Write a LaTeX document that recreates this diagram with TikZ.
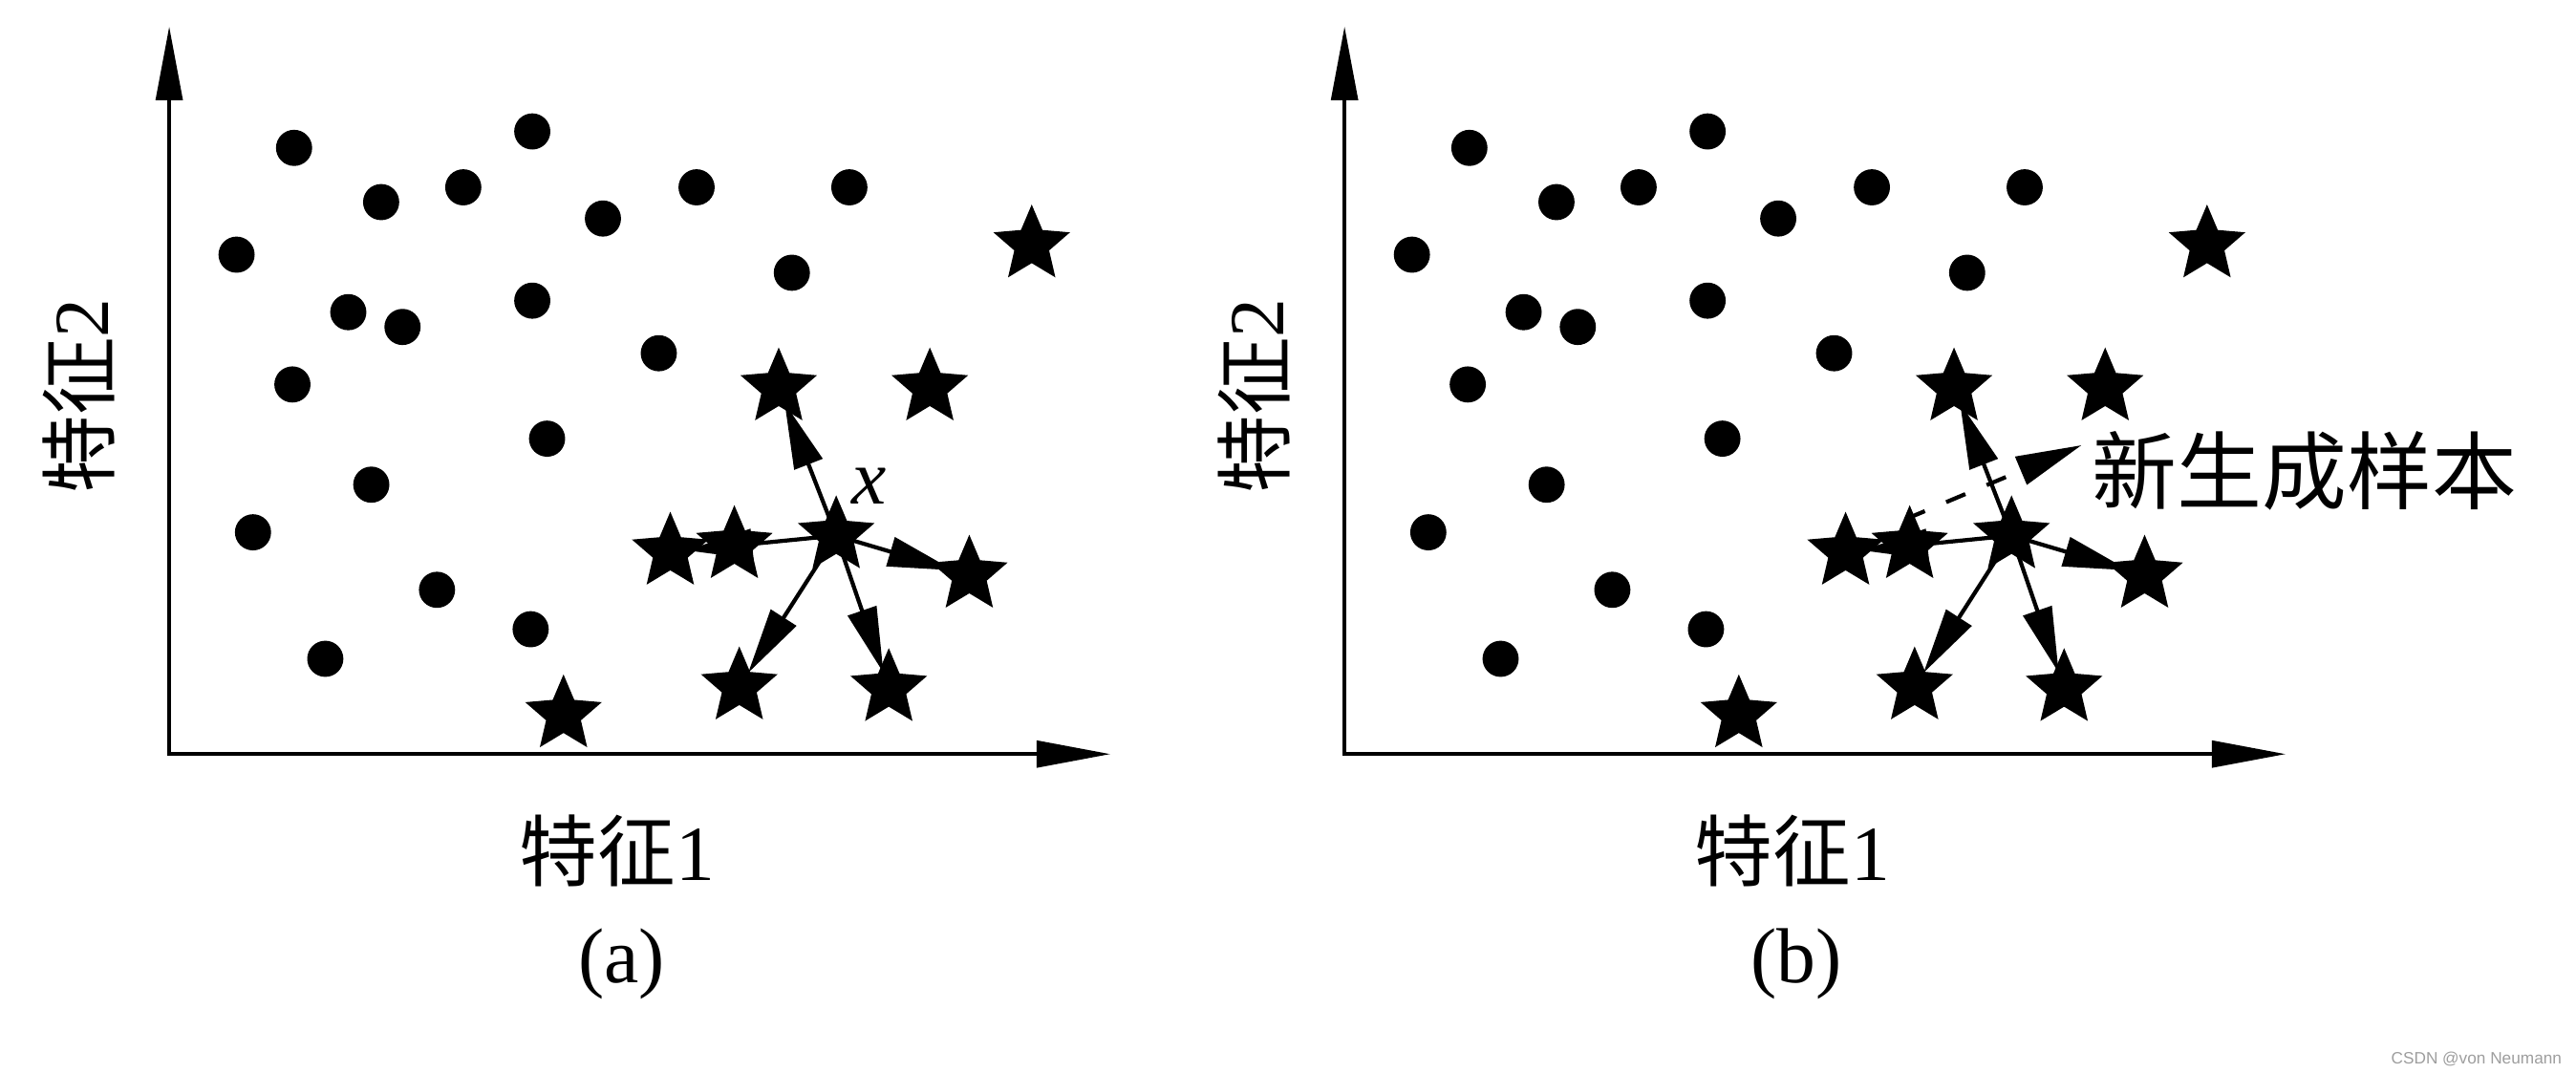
\documentclass[tikz,border=0pt]{standalone}
\usepackage{fontspec}
\setmainfont{Liberation Serif}
\newfontfamily\cjk{Noto Sans CJK SC}
\newfontfamily\wmfont{Liberation Sans}
\usetikzlibrary{shapes.geometric,arrows.meta}
\tikzset{
  dot/.style={circle,fill=black,inner sep=0pt,minimum size=0.22cm},
  starnode/.style={star,star points=5,star point ratio=2.2,fill=black,inner sep=0pt,minimum size=0.49cm},
  axis/.style={line width=0.75pt,{Triangle[length=0.45cm,width=0.16cm]}-{Triangle[length=0.45cm,width=0.16cm]}},
  nbarrow/.style={line width=0.7pt,-{Triangle[length=0.40cm,width=0.18cm]},shorten >=0.10cm},
  newarrow/.style={line width=0.7pt,dash pattern=on 3.6pt off 4pt,-{Triangle[length=0.40cm,width=0.18cm]}},
  lbl/.style={inner sep=0pt,font=\fontsize{13.5}{15}\selectfont},
  biglbl/.style={inner sep=0pt,font=\fontsize{14.7}{16}\selectfont},
  wm/.style={inner sep=0pt,text=black!38,font=\wmfont\fontsize{2.85}{3}\selectfont},
}
\begin{document}
\begin{tikzpicture}[x=0.01cm,y=-0.01cm]
\fill[white] (0,0) rectangle (1568,653);
\useasboundingbox (0,0) rectangle (1568,653);
\foreach \p/\dx in {a/0,b/7.15}{
\begin{scope}[xshift=\dx cm]
  % axes
  \coordinate (o\p) at (103,459);
  \coordinate (ytip\p) at (103,16);
  \coordinate (xtip\p) at (676,459);
  \draw[axis] (ytip\p) -- (o\p) -- (xtip\p);
  % dots (majority class)
  \foreach \i/\cx/\cy in {1/179/90,2/324/80,3/232/123,4/282/114,5/367/133,6/424/114,7/517/114,
      8/144/155,9/482/166,10/212/190,11/245/199,12/324/183,13/401/215,14/178/234,15/333/267,
      16/226/295,17/154/324,18/266/359,19/323/383,20/198/401}
    \node[dot] (d\i\p) at (\cx,\cy) {};
  % stars (minority class)
  \node[starnode] (sFar\p) at (628,149) {};
  \node[starnode] (sTop\p) at (474,236) {};
  \node[starnode] (sTR\p) at (566,236) {};
  \node[starnode] (sx\p) at (509,326) {};
  \node[starnode] (sL1\p) at (408,336) {};
  \node[starnode] (sL2\p) at (447,332) {};
  \node[starnode] (sR\p) at (590,350) {};
  \node[starnode] (sBL\p) at (450,418) {};
  \node[starnode] (sBR\p) at (541,419) {};
  \node[starnode] (sB\p) at (343,435) {};
  \foreach \t in {sTop,sL1,sR,sBL,sBR}
    \draw[nbarrow] (sx\p.center) -- (\t\p.center);
  % labels
  \node[lbl] (f1\p) at (375.6,517.6) {{\cjk 特征}1};
  \node[lbl,rotate=90] (f2\p) at (48,241) {{\cjk 特征}2};
\end{scope}
}
\node[lbl] (capa) at (378.5,586.5) {(a)};
\node[lbl] (capb) at (1093.5,586.5) {(b)};
\node[lbl,font=\fontsize{13.5}{15}\selectfont\itshape] (xlabel) at (529,296) {x};
% new sample arrow in panel (b)
\node[biglbl,anchor=west] (newlbl) at (1273,286.5) {\cjk 新生成样本};
\coordinate (newstart) at (1160,316);
\coordinate (newtip) at (1267,271);
\draw[newarrow] (newstart) -- (newtip);
% watermark
\node[wm,anchor=base east] (wmark) at (1560,647.5) {CSDN @von  Neumann};
\end{tikzpicture}
\end{document}
